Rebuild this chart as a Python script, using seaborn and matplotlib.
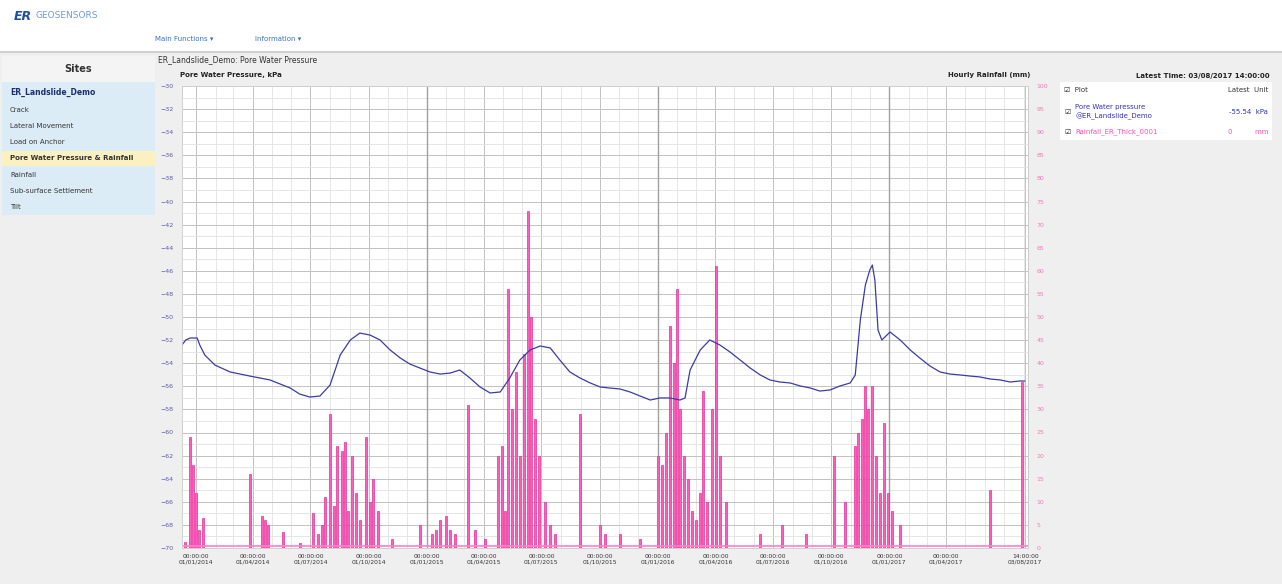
import numpy as np
import pandas as pd
import seaborn as sns
import matplotlib.pyplot as plt
import matplotlib.dates as mdates
from matplotlib.patches import Rectangle

# ---- data ----
start = pd.Timestamp('2013-12-10')

# pore water pressure, kPa  (days since start)
ppw_days = [0, 6, 13, 24, 28, 36, 52, 76, 107, 139, 171, 186, 202, 218, 234,
            250, 266, 281, 297, 313, 329, 345, 360, 376, 392, 408, 424, 439,
            455, 471, 487, 503, 518, 534, 550, 566, 582, 597, 613, 629, 645,
            661, 676, 692, 708, 724, 740, 755, 771, 787, 795, 803, 819, 834,
            850, 866, 882, 898, 914, 929, 945, 961, 977, 993, 1008, 1024, 1040,
            1056, 1064, 1072, 1080, 1087, 1091, 1095, 1100, 1106, 1119, 1135,
            1151, 1166, 1182, 1198, 1214, 1230, 1245, 1261, 1277, 1293, 1309,
            1324, 1332]
ppw_kpa = [-52.42, -51.99, -51.82, -51.82, -52.42, -53.29, -54.16, -54.76,
           -55.11, -55.45, -56.15, -56.67, -56.93, -56.84, -55.89, -53.29,
           -51.99, -51.39, -51.56, -51.99, -52.86, -53.55, -54.07, -54.42,
           -54.76, -54.94, -54.85, -54.59, -55.28, -56.06, -56.58, -56.49,
           -55.28, -53.72, -52.86, -52.51, -52.68, -53.72, -54.76, -55.28,
           -55.71, -56.06, -56.15, -56.23, -56.49, -56.84, -57.19, -57.01,
           -57.01, -57.19, -57.01, -54.59, -52.86, -51.99, -52.42, -53.03,
           -53.72, -54.42, -55.02, -55.45, -55.63, -55.71, -55.97, -56.15,
           -56.41, -56.32, -55.97, -55.71, -55.02, -50.26, -47.23, -45.93,
           -45.50, -46.80, -51.13, -51.99, -51.30, -51.99, -52.86, -53.55,
           -54.24, -54.76, -54.94, -55.02, -55.11, -55.19, -55.37, -55.45,
           -55.63, -55.54, -55.54]

# hourly rainfall, mm  (days since start)
rain_days = [5, 13, 17, 22, 27, 33, 107, 126, 131, 136, 160, 186, 207, 215,
             221, 226, 234, 240, 245, 253, 258, 262, 269, 275, 281, 291, 297,
             302, 310, 332, 376, 395, 401, 408, 417, 424, 432, 452, 463, 479,
             499, 506, 510, 515, 522, 528, 534, 541, 547, 552, 558, 564, 574,
             582, 590, 629, 661, 669, 692, 724, 752, 759, 765, 771, 778, 782,
             787, 794, 800, 806, 812, 819, 823, 830, 838, 844, 850, 860, 914,
             948, 986, 1030, 1048, 1064, 1068, 1075, 1080, 1084, 1091, 1097,
             1103, 1110, 1116, 1122, 1135, 1277, 1327]
rain_mm = [1.3, 24, 18, 12, 4, 6.5, 16, 7, 6, 5, 3.5, 1, 7.5, 3, 5, 11, 29,
           9, 22, 21, 23, 8, 20, 12, 6, 24, 10, 15, 8, 2, 5, 3, 4, 6, 7, 4, 3,
           31, 4, 2, 20, 22, 8, 56, 30, 38, 20, 42, 73, 50, 28, 20, 10, 5, 3,
           29, 5, 3, 3, 2, 20, 18, 25, 48, 40, 56, 30, 20, 15, 8, 6, 12, 34,
           10, 30, 61, 20, 10, 3, 5, 3, 20, 10, 22, 25, 28, 35, 30, 35, 20,
           12, 27, 12, 8, 5, 12.5, 36]

tick_dates = ['2014-01-01 00:00', '2014-04-01 00:00', '2014-07-01 00:00',
              '2014-10-01 00:00', '2015-01-01 00:00', '2015-04-01 00:00',
              '2015-07-01 00:00', '2015-10-01 00:00', '2016-01-01 00:00',
              '2016-04-01 00:00', '2016-07-01 00:00', '2016-10-01 00:00',
              '2017-01-01 00:00', '2017-04-01 00:00', '2017-08-03 14:00']
year_lines = ['2015-01-01', '2016-01-01', '2017-01-01']
end_day = 1337

ppw_x = start + pd.to_timedelta(ppw_days, unit='D')
rain_x = start + pd.to_timedelta(rain_days, unit='D')
ticks = pd.to_datetime(tick_dates, format='%Y-%m-%d %H:%M')

sns.set_style('white')
plt.rcParams['font.family'] = ['DejaVu Sans']

W, H = 1282, 584
fig = plt.figure(figsize=(W / 100, H / 100), dpi=100, facecolor='#efefef')


def fx(x):
    return x / W


def fy(y):
    return 1 - y / H


def box(x0, y0, x1, y1, color, ec='none'):
    fig.patches.append(Rectangle((fx(x0), fy(y1)), fx(x1) - fx(x0), fy(y0) - fy(y1),
                                 transform=fig.transFigure, facecolor=color,
                                 edgecolor=ec, lw=0.6, zorder=0))


# page chrome
box(0, 0, W, 52, 'white')
box(0, 51, W, 53, '#cfcfcf')
fig.text(fx(14), fy(16), 'ER', fontsize=9, fontweight='bold', style='italic',
         color='#1f4fa0', va='center')
fig.text(fx(36), fy(16), 'GEOSENSORS', fontsize=6.5, color='#6f9ad8', va='center')
fig.text(fx(155), fy(39), 'Main Functions \u25be', fontsize=5, color='#3a6fc0', va='center')
fig.text(fx(255), fy(39), 'Information \u25be', fontsize=5, color='#3a6fc0', va='center')

# sidebar
box(2, 56, 155, 82, '#f4f4f4')
box(2, 82, 155, 215, '#dcecf7')
box(2, 151, 155, 166, '#fbf0c0')
fig.text(fx(78), fy(69), 'Sites', fontsize=7, fontweight='bold', color='#333333',
         ha='center', va='center')
side_items = ['ER_Landslide_Demo', 'Crack', 'Lateral Movement', 'Load on Anchor',
              'Pore Water Pressure & Rainfall', 'Rainfall',
              'Sub-surface Settlement', 'Tilt']
side_y = [92, 110, 126, 142, 158, 175, 191, 207]
for s, yy in zip(side_items, side_y):
    fig.text(fx(10), fy(yy), s, fontsize=5 if yy != 92 else 5.5,
             fontweight='bold' if yy in (92, 158) else 'normal',
             color='#1a2f6e' if yy == 92 else '#333333', va='center')

# titles
fig.text(fx(158), fy(60), 'ER_Landslide_Demo: Pore Water Pressure', fontsize=5.5,
         color='#333333', va='center')
fig.text(fx(180), fy(75), 'Pore Water Pressure, kPa', fontsize=5, fontweight='bold',
         color='#222222', va='center')
fig.text(fx(1030), fy(75), 'Hourly Rainfall (mm)', fontsize=5, fontweight='bold',
         color='#222222', va='center', ha='right')
fig.text(fx(1270), fy(76), 'Latest Time: 03/08/2017 14:00:00', fontsize=5,
         fontweight='bold', color='#222222', va='center', ha='right')

# legend panel
box(1060, 82, 1272, 140, 'white')
fig.text(fx(1064), fy(90), '\u2611  Plot', fontsize=5, color='#333333', va='center')
fig.text(fx(1268), fy(90), 'Latest  Unit', fontsize=5, color='#333333', va='center', ha='right')
fig.text(fx(1064), fy(112), '\u2611', fontsize=5, color='#333333', va='center')
fig.text(fx(1075), fy(112), 'Pore Water pressure\n@ER_Landslide_Demo', fontsize=5,
         color='#3333bb', va='center', linespacing=1.5)
fig.text(fx(1268), fy(112), '%.2f  kPa' % ppw_kpa[-1], fontsize=5, color='#3333bb',
         va='center', ha='right')
fig.text(fx(1064), fy(132), '\u2611', fontsize=5, color='#333333', va='center')
fig.text(fx(1075), fy(132), 'Rainfall_ER_Thick_0001', fontsize=5, color='#ff4fb0', va='center')
fig.text(fx(1268), fy(132), '0          mm', fontsize=5, color='#ff4fb0', va='center', ha='right')

# ---- chart ----
ax2 = fig.add_axes([fx(182), fy(548), fx(1028) - fx(182), fy(86) - fy(548)])
ax = ax2.twinx()
ax.yaxis.tick_left()
ax2.yaxis.tick_right()
ax2.set_facecolor('white')

x0, x1 = start, start + pd.Timedelta(days=end_day)
ax2.set_xlim(x0, x1)
ax2.set_ylim(0, 100)
ax2.set_yticks(np.arange(0, 101, 5))
ax2.set_yticks(np.arange(0, 101, 2.5), minor=True)
ax2.xaxis.set_minor_locator(mdates.MonthLocator())
ax2.set_xticks(ticks)
ax2.set_xticklabels([t.strftime('%H:%M:%S\n%d/%m/%Y') for t in ticks])
ax2.grid(which='major', color='#c2c2c2', lw=0.7)
ax2.grid(which='minor', color='#e2e2e2', lw=0.6)
for yr in year_lines:
    ax2.axvline(pd.Timestamp(yr), color='#a0a0a0', lw=1.0, zorder=1)

ax2.bar(rain_x, rain_mm, width=3.0, color='#ff5cbc', edgecolor='#e8309a',
        linewidth=0.5, zorder=2)
ax2.axhline(0.4, color='#ff7fcc', lw=1.2, zorder=2)

sns.lineplot(x=ppw_x, y=ppw_kpa, ax=ax, color='#3b3ba6', lw=0.9)
ax.set_ylim(-70, -30)
ax.set_yticks(np.arange(-70, -29, 2))
ax.set_xlim(x0, x1)
ax.set_ylabel('')
ax.set_xlabel('')

ax.tick_params(axis='y', labelsize=4.5, labelcolor='#5a5aa8', length=0, pad=6)
ax2.tick_params(axis='y', labelsize=4.5, labelcolor='#f07ab8', length=0, pad=6)
ax2.tick_params(axis='x', labelsize=4.3, labelcolor='#333333', length=0, pad=4)
ax2.tick_params(which='minor', length=0)
for a in (ax, ax2):
    for sp in a.spines.values():
        sp.set_color('#d0d0d0')
        sp.set_linewidth(0.6)

fig.savefig('out.png', dpi=100, facecolor=fig.get_facecolor())
